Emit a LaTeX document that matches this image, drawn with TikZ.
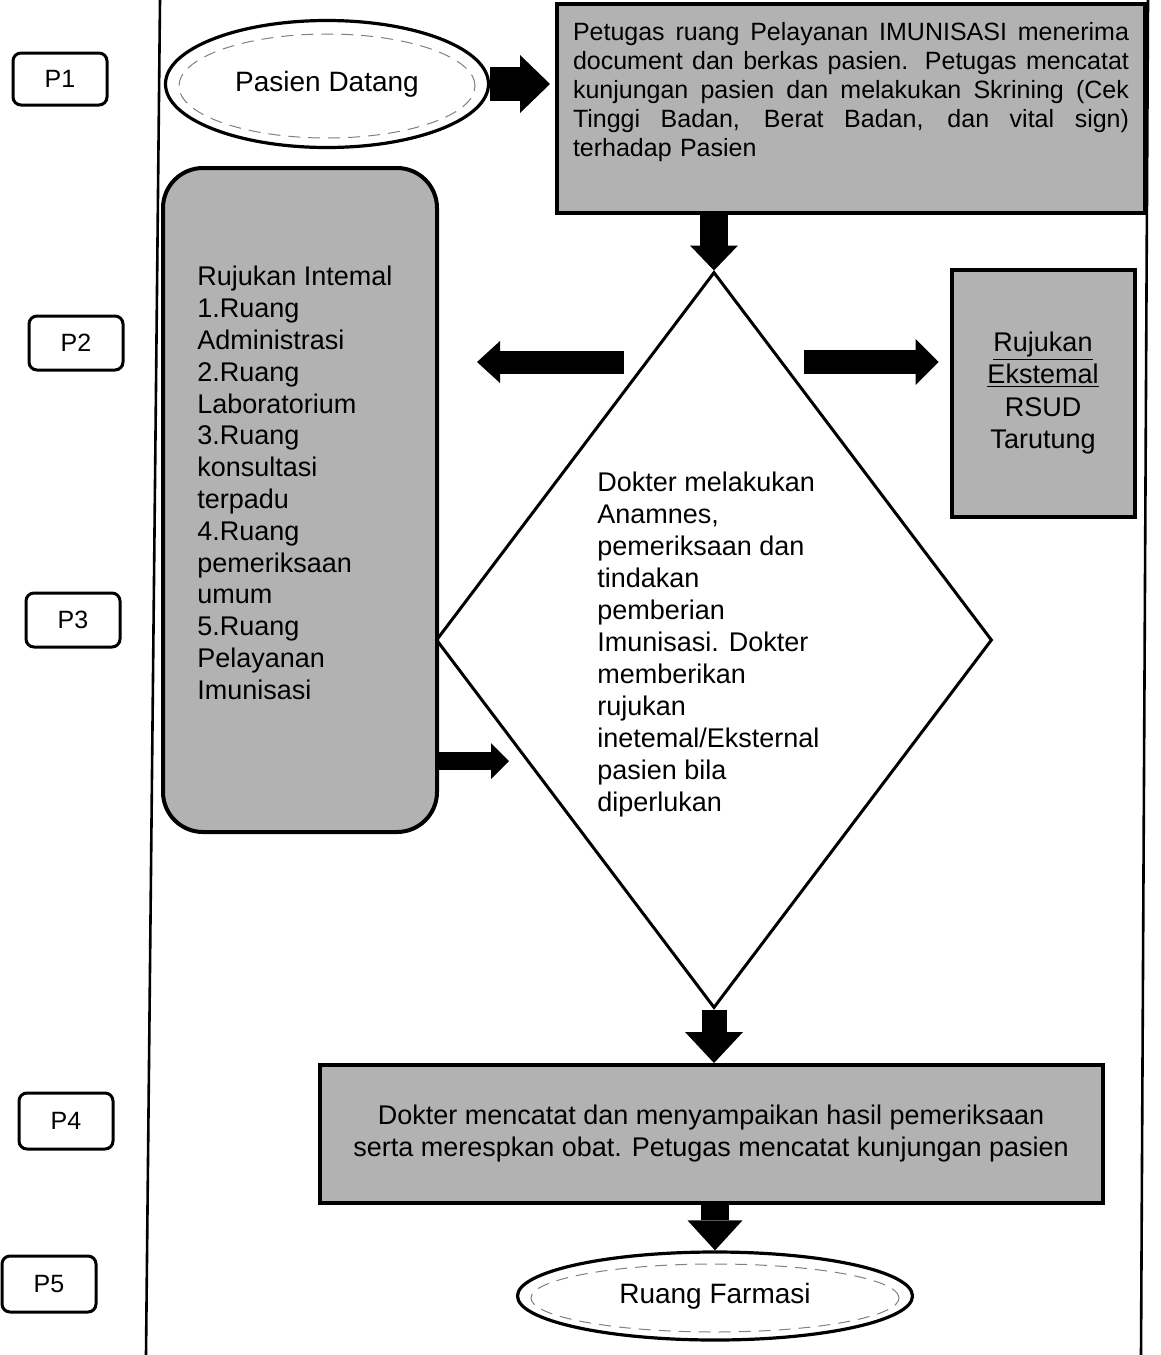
\documentclass[tikz,border=0pt]{standalone}
\usepackage{fontspec}
\setmainfont{Liberation Sans}
\usetikzlibrary{shapes.geometric,arrows.meta,calc}
\newcommand{\jline}[1]{\makebox[278pt][s]{\spaceskip=0pt\xspaceskip=0pt\relax #1}}
\begin{document}
\begin{tikzpicture}[x=0.5pt,y=-0.5pt,
  plabel/.style={draw,line width=1.5pt,rounded corners=4pt,minimum width=47pt,minimum height=26pt,inner sep=0pt,font=\fontsize{12.5}{14}\selectfont},
  ovalnode/.style={draw,ellipse,line width=1.6pt,inner sep=0pt,font=\fontsize{14}{16}\selectfont},
  texbox/.style={draw,line width=2pt,fill=black!30,inner sep=0pt},
  lane/.style={line width=1.3pt},
  innerdash/.style={gray,line width=0.5pt,dash pattern=on 6pt off 4pt},
  blkarrow/.style n args={3}{line width=#1,-{Triangle[length=#2 0,width=#3 0,line width=0pt 0 0]}},
  ]
\useasboundingbox (0,0) rectangle (1161,1355);
% lanes
\draw[lane] (160,0) -- (146,1355);
\draw[lane] (1148,0) -- (1141,1355);
% phase labels
\node[plabel] (p1) at (60,79) {P1};
\node[plabel,minimum height=27pt] (p2) at (76,343) {P2};
\node[plabel,minimum height=27pt] (p3) at (73,620) {P3};
\node[plabel,minimum height=28pt] (p4) at (66,1121) {P4};
\node[plabel,minimum height=28pt] (p5) at (49,1284) {P5};
% start
\node[ovalnode,minimum width=161.5pt,minimum height=63.5pt] (e1) at (327,84) {Pasien Datang};
\draw[innerdash] (327,86) ellipse (74pt and 26pt);
% box 1
\node[texbox,minimum width=294pt,minimum height=104.5pt] (b1) at (851,108) {};
\node[inner sep=0pt,text width=278pt,align=left,font=\fontsize{12.5}{14.5}\selectfont] (b1t) at (851,92)
 {\jline{Petugas ruang Pelayanan IMUNISASI menerima}\\
  \jline{document dan berkas pasien. Petugas mencatat}\\
  \jline{kunjungan pasien dan melakukan Skrining (Cek}\\
  \jline{Tinggi Badan, Berat Badan, dan vital sign)}\\
  terhadap Pasien};
% internal referral
\node[texbox,rounded corners=20pt,minimum width=137pt,minimum height=332pt] (ri) at (300,500) {};
\node[inner sep=0pt,anchor=west,align=left,font=\fontsize{13.5}{15.9}\selectfont] (rit) at (197,483)
 {Rujukan Intemal\\1.Ruang\\Administrasi\\2.Ruang\\Laboratorium\\3.Ruang\\konsultasi\\terpadu\\4.Ruang\\pemeriksaan\\umum\\5.Ruang\\Pelayanan\\Imunisasi};
% external referral
\node[texbox,minimum width=91.5pt,minimum height=123.5pt,align=center,font=\fontsize{13.5}{16.2}\selectfont] (re) at (1043,393)
 {\underline{Rujukan}\\\underline{Ekstemal}\\RSUD\\Tarutung};
% decision
\node[draw,diamond,line width=1.5pt,minimum width=278pt,minimum height=368pt,inner sep=0pt,aspect=0.755] (dia) at (714,640) {};
\node[inner sep=0pt,anchor=west,align=left,font=\fontsize{13.5}{16}\selectfont] (diat) at (597,645)
 {Dokter melakukan\\Anamnes,\\pemeriksaan dan\\tindakan\\pemberian\\Imunisasi. Dokter\\memberikan\\rujukan\\inetemal/Eksternal\\pasien bila\\diperlukan};
% box 4
\node[texbox,minimum width=391.5pt,minimum height=69pt,align=center,font=\fontsize{13.5}{16}\selectfont] (b4) at (711,1134)
 {Dokter mencatat dan menyampaikan hasil pemeriksaan\\serta merespkan obat. Petugas mencatat kunjungan pasien};
% end
\node[ovalnode,minimum width=197.5pt,minimum height=44pt] (e2) at (715,1296) {Ruang Farmasi};
\draw[innerdash] (715,1298) ellipse (92pt and 17pt);
% connectors
\coordinate (a3s) at (624,362);
\coordinate (a4s) at (804,362);
\coordinate (a5e) at (509,761);
\draw[blkarrow={17pt}{15pt}{29pt},shorten >=2.5pt] (e1.east) -- (b1.west |- e1.east);
\draw[blkarrow={14pt}{12.5pt}{24pt}] (b1.south -| dia.north) -- (dia.north);
\draw[blkarrow={11.5pt}{11.5pt}{21pt},shorten >=19pt] (a3s) -- (ri.east |- a3s);
\draw[blkarrow={12pt}{11.5pt}{23pt},shorten >=5.5pt] (a4s) -- (re.west |- a4s);
\draw[blkarrow={9pt}{9pt}{18pt}] (ri.east |- a5e) -- (a5e);
\draw[blkarrow={12.5pt}{15.5pt}{29pt}] (dia.south) -- (b4.north -| dia.south);
\draw[blkarrow={14pt}{15pt}{27.5pt}] (b4.south -| e2.north) -- (e2.north);
\end{tikzpicture}
\end{document}
